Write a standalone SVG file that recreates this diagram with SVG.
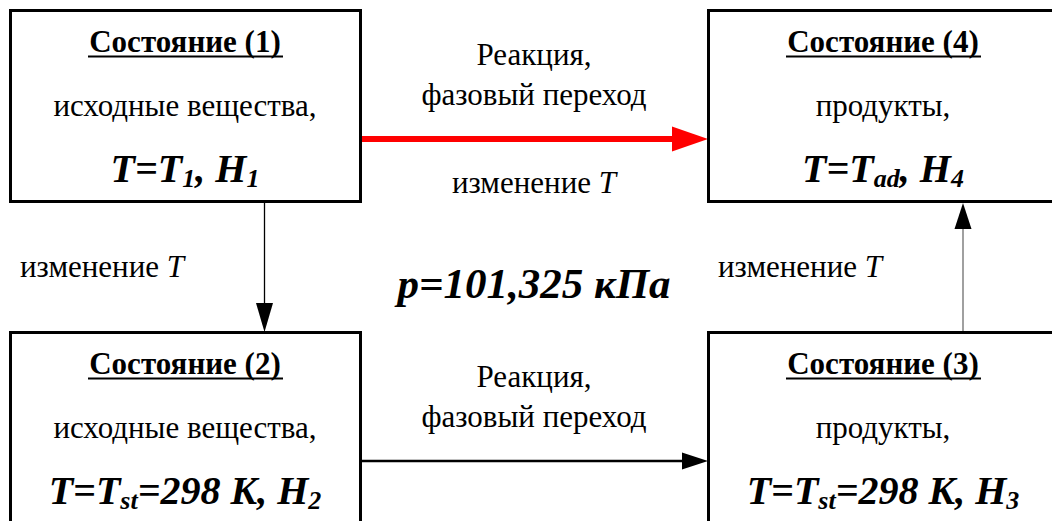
<svg xmlns="http://www.w3.org/2000/svg" width="1052" height="521" viewBox="0 0 1052 521" font-family="Liberation Serif, Times New Roman, DejaVu Serif, serif">
<style>
.box{fill:#fff;stroke:#000;stroke-width:3}
.hd{font-family:"Liberation Serif","Times New Roman","DejaVu Serif",serif;font-size:31px;font-weight:bold;text-anchor:middle}
.ul{stroke:#000;stroke-width:2.2}
.tx{font-family:"Liberation Serif","Times New Roman","DejaVu Serif",serif;font-size:31px;text-anchor:middle}
.lb{font-family:"Liberation Serif","Times New Roman","DejaVu Serif",serif;font-size:31px}
.fm{font-family:"Liberation Serif","Times New Roman","DejaVu Serif",serif;font-size:40px;font-weight:bold;font-style:italic;text-anchor:middle}
.pf{font-size:43px}
.sub{font-size:26px}
.it{font-style:italic}
</style>
<rect width="1052" height="521" fill="#fff"/>
<g id="connectors">
<line x1="358" y1="139" x2="676" y2="139" stroke="#ff0000" stroke-width="6" stroke-linecap="round"/>
<polygon points="672,126.5 708,139 672,151.5" fill="#ff0000"/>
<line x1="360" y1="461" x2="686" y2="461" stroke="#000" stroke-width="2.5"/>
<polygon points="682,452.5 708,461 682,469.5" fill="#000"/>
<line x1="264.5" y1="203" x2="264.5" y2="306" stroke="#000" stroke-width="1.3"/>
<polygon points="256,303 273,303 264.5,332" fill="#000"/>
<line x1="963" y1="332" x2="963" y2="226" stroke="#808080" stroke-width="1.5"/>
<polygon points="954.5,229 971.5,229 963,203" fill="#000"/>
</g>
<g id="state1">
<rect class="box" x="10.5" y="10.5" width="350" height="191"/>
<text class="hd" x="185" y="52">Состояние (1)</text>
<line class="ul" x1="88" y1="56.5" x2="283" y2="56.5"/>
<text class="tx" x="185" y="116">исходные вещества,</text>
<text class="fm" x="185" y="182">T=T<tspan class="sub" dy="5">1</tspan><tspan dy="-5">, H</tspan><tspan class="sub" dy="5">1</tspan></text>
</g>
<g id="state4">
<rect class="box" x="708.5" y="10.5" width="350" height="191"/>
<text class="hd" x="883" y="52">Состояние (4)</text>
<line class="ul" x1="786" y1="56.5" x2="981" y2="56.5"/>
<text class="tx" x="883" y="116">продукты,</text>
<text class="fm" x="883" y="182">T=T<tspan class="sub" dy="5">ad</tspan><tspan dy="-5">, H</tspan><tspan class="sub" dy="5">4</tspan></text>
</g>
<g id="state2">
<rect class="box" x="10.5" y="332.5" width="350" height="200"/>
<text class="hd" x="185" y="374">Состояние (2)</text>
<line class="ul" x1="88" y1="378.5" x2="283" y2="378.5"/>
<text class="tx" x="185" y="438">исходные вещества,</text>
<text class="fm" x="185" y="504">T=T<tspan class="sub" dy="5">st</tspan><tspan dy="-5">=298 K, H</tspan><tspan class="sub" dy="5">2</tspan></text>
</g>
<g id="state3">
<rect class="box" x="708.5" y="332.5" width="350" height="200"/>
<text class="hd" x="883" y="374">Состояние (3)</text>
<line class="ul" x1="786" y1="378.5" x2="981" y2="378.5"/>
<text class="tx" x="883" y="438">продукты,</text>
<text class="fm" x="883" y="504">T=T<tspan class="sub" dy="5">st</tspan><tspan dy="-5">=298 K, H</tspan><tspan class="sub" dy="5">3</tspan></text>
</g>
<g id="labels">
<text class="tx" x="534" y="65">Реакция,</text>
<text class="tx" x="534" y="105">фазовый переход</text>
<text class="tx" x="534" y="193">изменение <tspan class="it">T</tspan></text>
<text class="lb" x="20" y="277">изменение <tspan class="it">T</tspan></text>
<text class="lb" x="718" y="277">изменение <tspan class="it">T</tspan></text>
<text class="fm pf" x="534" y="298">p=101,325 кПа</text>
<text class="tx" x="534" y="387">Реакция,</text>
<text class="tx" x="534" y="427">фазовый переход</text>
</g>
</svg>
